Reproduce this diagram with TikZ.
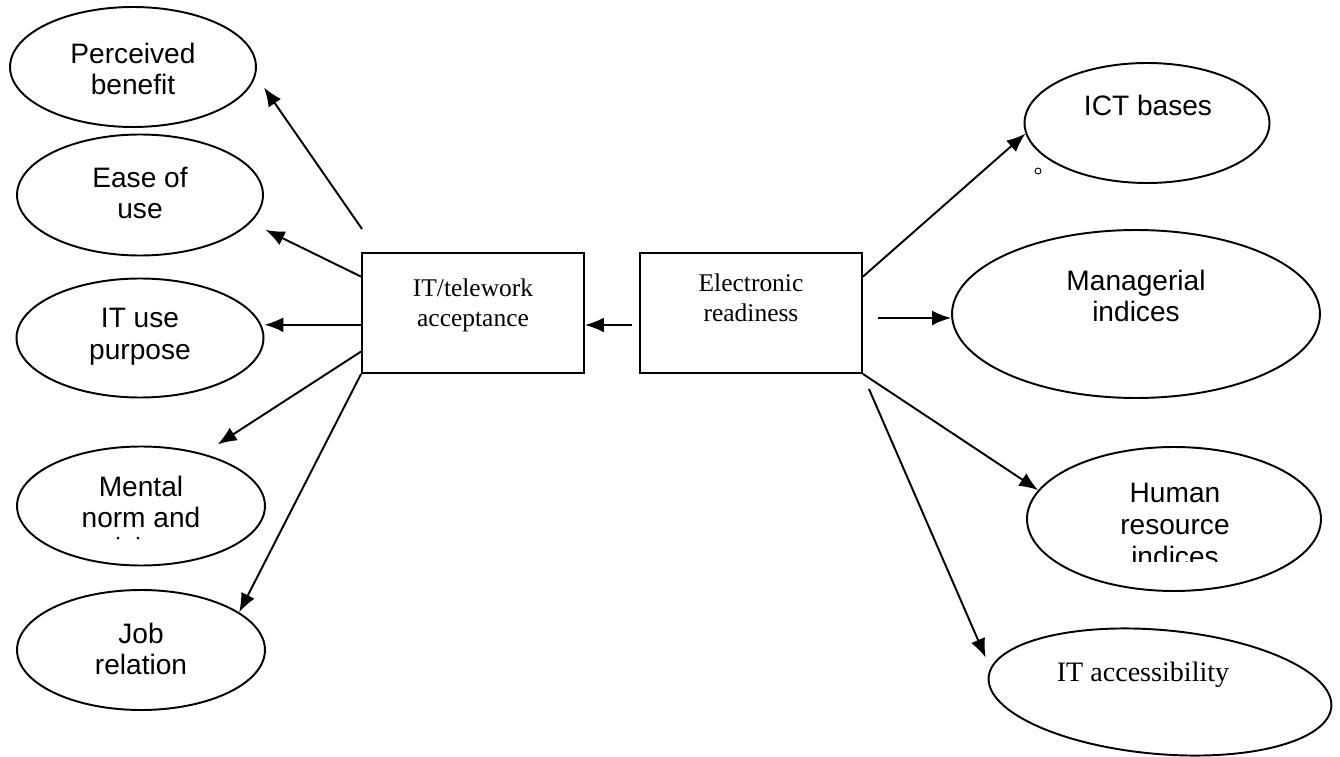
\documentclass[tikz,border=0pt]{standalone}
\usepackage{fontspec}
\setmainfont{Liberation Serif}
\setsansfont{Liberation Sans}
\usetikzlibrary{shapes.geometric,arrows.meta,calc}

\begin{document}
\begin{tikzpicture}[x=0.02cm,y=-0.02cm]
	\tikzstyle{every node}=[inner sep=0pt]
	\tikzstyle{oval}=[draw, ellipse, line width=1.1pt]
	\tikzstyle{sanstxt}=[font=\sffamily\fontsize{16}{18}\selectfont, align=center]
	\tikzstyle{serftxt}=[font=\fontsize{14.5}{17}\selectfont, align=center]
	\tikzstyle{frame}=[draw, rectangle, line width=1.1pt, minimum width=4.44cm, minimum height=2.4cm]
	\tikzstyle{arr}=[line width=1.1pt, -{Latex[length=0.38cm,width=0.3cm]}]
	
	\useasboundingbox (0,0) rectangle (1340,757);
	
	\node[frame] (acc) at (473,313) {};
	\node[serftxt] (acc-t) at (473,305) {IT/telework\\acceptance};
	\node[frame] (er) at (751,313) {};
	\node[serftxt] (er-t) at (751,298) {Electronic\\readiness};
	
	\node[oval, minimum width=4.92cm, minimum height=2.4cm] (pb) at (133,67) {};
	\node[sanstxt] (pb-t) at (133,69) {Perceived\\benefit};
	\node[oval, minimum width=4.92cm, minimum height=2.42cm] (eou) at (140,195) {};
	\node[sanstxt] (eou-t) at (140,193) {Ease of\\use};
	\node[oval, minimum width=4.94cm, minimum height=2.38cm] (itp) at (140,338) {};
	\node[sanstxt] (itp-t) at (140,337) {IT use\\purpose};
	\node[oval, minimum width=4.96cm, minimum height=2.38cm] (mn) at (141,506) {};
	\node[sanstxt] (mn-t) at (141,502) {Mental\\norm and};
	\fill (118,538) circle[radius=0.03cm] (138,538) circle[radius=0.03cm];
	\node[oval, minimum width=4.96cm, minimum height=2.4cm] (jr) at (141,650) {};
	\node[sanstxt] (jr-t) at (141,649) {Job\\relation};
	
	\node[oval, minimum width=4.9cm, minimum height=2.4cm] (ict) at (1147,123) {};
	\node[sanstxt] (ict-t) at (1148,105) {ICT bases};
	\draw[line width=0.5pt] (1038,171) circle[radius=0.06cm];
	\node[oval, minimum width=7.36cm, minimum height=3.36cm] (mi) at (1136,314) {};
	\node[sanstxt] (mi-t) at (1136,296) {Managerial\\indices};
	\node[oval, minimum width=5.88cm, minimum height=2.88cm] (hr) at (1174,519) {};
	\begin{scope}
	\clip (1000,440) rectangle (1340,561);
	\node[sanstxt] (hr-t) at (1175,525) {Human\\resource\\indices};
	\end{scope}
	\node[oval, rotate=-5, minimum width=6.88cm, minimum height=2.48cm] (ita) at (1160,692) {};
	\node[font=\fontsize{16}{18}\selectfont] (ita-t) at (1143,675) {IT accessibility};
	
	\coordinate (a0) at ($(acc.north west)+(1,-23)$);
	\coordinate (m0) at ($(er.east)+(15,5)$);
	\coordinate (e0) at ($(er.west)+(-7,12)$);
	\coordinate (s0) at ($(er.south east)+(6,15)$);
	
	\draw[arr, shorten >=0.29cm] (a0) -- (pb.-4);
	\draw[arr, shorten >=0.33cm] (acc.162) -- (eou.-14);
	\draw[arr] (acc.186) -- (acc.186 -| itp.east);
	\draw[arr, shorten >=0.34cm] (acc.199) -- (mn.40);
	\draw[arr] (acc.south west) -- (jr.21);
	\draw[arr] (e0) -- (e0 -| acc.east);
	
	\draw[arr] (er.18) -- (ict.185);
	\draw[arr] (m0) -- (m0 -| mi.west);
	\draw[arr] (er.south east) -- (hr.168);
	\draw[arr, shorten >=0.23cm] (s0) -- (ita.177);
	
\end{tikzpicture}
\end{document}
